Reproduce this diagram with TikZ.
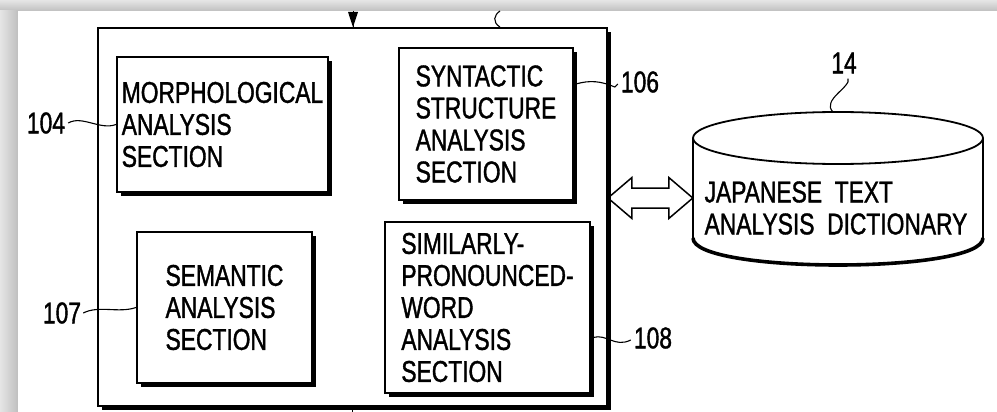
\documentclass[tikz,border=0pt]{standalone}
\usepackage{fontspec}
\setmainfont{Liberation Sans}[FakeStretch=0.76,FakeBold=1.2]
\usetikzlibrary{arrows.meta,calc}
\tikzset{
  blk/.style={draw, line width=1.9pt, rectangle, inner sep=0pt, align=left,
    font=\fontsize{30}{32}\selectfont},
  shd/.style={line width=3.6pt},
  lbl/.style={inner sep=0pt, font=\fontsize{30}{32}\selectfont},
  lead/.style={line width=1.1pt},
  body/.style={line width=1.8pt}
}
\newcommand\bshadow[1]{%
  \draw[shd] ([xshift=1.4pt,yshift=-5pt]#1.north east) -- ([xshift=1.4pt,yshift=-1.4pt]#1.south east) -- ([xshift=5pt,yshift=-1.4pt]#1.south west);}
\begin{document}
\begin{tikzpicture}[x=1pt,y=-1pt]
\useasboundingbox (0,0) rectangle (997,412);
% screenshot frame
\fill[gray!28] (0,0) rectangle (997,412);
\shade[top color=gray!20, bottom color=gray!50] (0,0) rectangle (997,11);
\shade[left color=gray!20, right color=gray!50] (0,11) rectangle (18,412);
\fill[white] (18,11) rectangle (997,412);
% outer unit
\node[blk, minimum width=509pt, minimum height=378pt] (unit) at (352.5,217) {};
\bshadow{unit}
% inner blocks
\node[blk, minimum width=211pt, minimum height=135pt] (morph) at (222.5,124.5)
  {MORPHOLOGICAL\\ANALYSIS\\SECTION};
\bshadow{morph}
\node[blk, minimum width=174pt, minimum height=152pt] (syn) at (486,124)
  {SYNTACTIC\\STRUCTURE\\ANALYSIS\\SECTION};
\bshadow{syn}
\node[blk, minimum width=175pt, minimum height=151pt] (sem) at (224.5,307.5)
  {SEMANTIC\\ANALYSIS\\SECTION};
\bshadow{sem}
\node[blk, minimum width=205pt, minimum height=171pt] (sim) at (487.5,307.5)
  {SIMILARLY-\\PRONOUNCED-\\WORD\\ANALYSIS\\SECTION};
\bshadow{sim}
% top / bottom partial connectors
\coordinate (topin) at (353,11);
\draw[line width=1pt] (topin) -- (topin |- unit.north);
\fill ($(topin)+(-5,1)$) -- ($(topin)+(5,1)$) -- (topin |- unit.north) -- cycle;
\coordinate (toplbl) at (500,11);
\draw[lead] (toplbl) .. controls (494,15) and (492,22) .. (toplbl |- unit.north) ++(-7,0);
\coordinate (botout) at (352,412);
\draw[line width=1pt] (botout |- unit.south) -- (botout);
% labels
\node[lbl] (l104) at (46,123) {104};
\draw[lead] (l104.east) ++(3,0) coordinate (s104) .. controls +(14,-8) and +(-16,6) .. (morph.west);
\node[lbl] (l106) at (640,82) {106};
\draw[lead] ($(syn.east)+(2,-40)$) .. controls +(14,-4) and +(-14,-6) .. ($(l106.west)+(-6,5)$) -- ++(3,-3);
\node[lbl] (l107) at (62,313) {107};
\draw[lead] (l107.east) ++(2,0) .. controls +(16,-8) and +(-18,6) .. (sem.west);
\node[lbl] (l108) at (653,338) {108};
\draw[lead] ($(sim.east)+(2,30)$) .. controls +(14,-4) and +(-16,8) .. ($(l108.west)+(-3,2)$);
% dictionary cylinder
\node[minimum width=290pt, minimum height=153pt, inner sep=0pt] (dict) at (838,188.5) {};
\draw[body] (838,138) ellipse [x radius=145, y radius=26];
\draw[body] (693,138) -- (693,238);
\draw[body] (983,138) -- (983,238);
\draw[line width=3.6pt] (693,238) .. controls (693,274) and (983,274) .. (983,238);
\node[lbl, align=left] (dtext) at (836,208) {JAPANESE\ \ TEXT\\ANALYSIS\ \ DICTIONARY};
\node[lbl] (l14) at (844,63) {14};
\draw[lead] ($(l14.south)+(4,5)$) .. controls +(4,8) and +(-12,-12) .. (833,112);
% double hollow arrow
\coordinate (aL) at (unit.east |- 0,198);
\coordinate (aR) at (dict.west |- 0,198);
\draw[line width=1.5pt, line join=miter] (aL) -- ++(24,-20.5) -- ++(0,10.5) -- ($(aR)+(-24,-10)$) -- ++(0,-10.5) -- (aR)
  -- ++(-24,20.5) -- ++(0,-10.5) -- ($(aL)+(24,10)$) -- ++(0,10.5) -- cycle;
\end{tikzpicture}
\end{document}
